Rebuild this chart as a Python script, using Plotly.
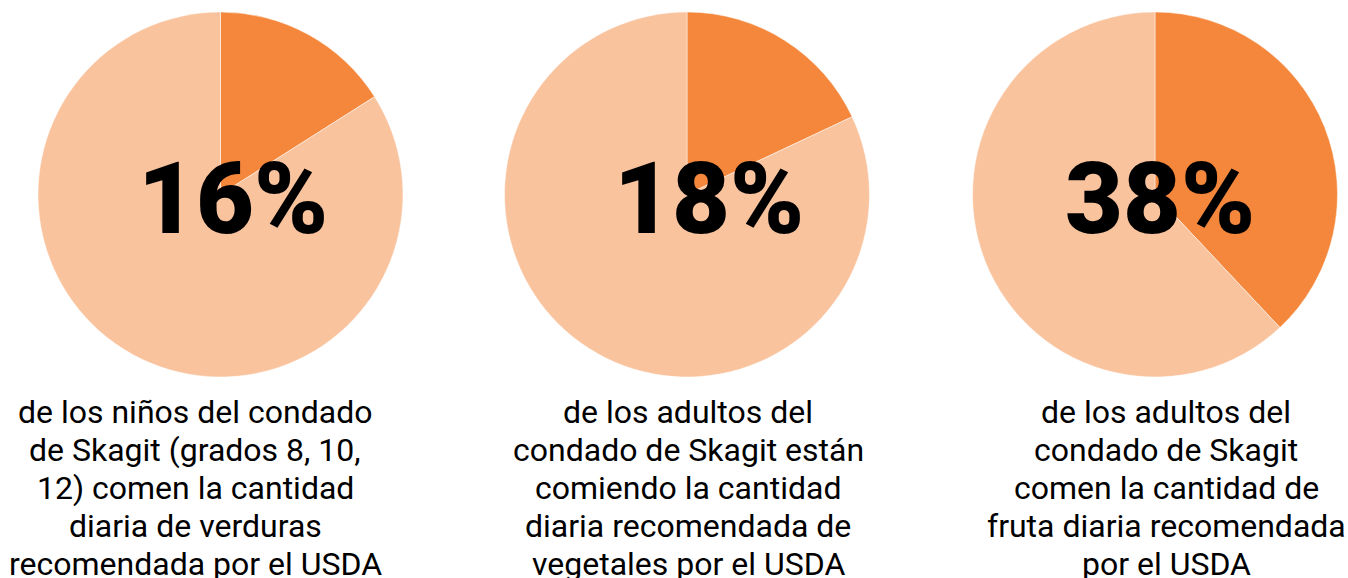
import plotly.graph_objects as go

W, H = 1348, 578
OFF = 0  # body margin removed via post_script

percents = [16, 18, 38]
big_labels = ["16%", "18%", "38%"]
captions = [
    ["de los niños del condado", "de Skagit (grados 8, 10,", "12) comen la cantidad",
     "diaria de verduras", "recomendada por el USDA"],
    ["de los adultos del", "condado de Skagit están", "comiendo la cantidad",
     "diaria recomendada de", "vegetales por el USDA"],
    ["de los adultos del", "condado de Skagit", "comen la cantidad de",
     "fruta diaria recomendada", "por el USDA"],
]
slice_names = ["Cumple", "No cumple"]

# layout (page pixels)
pie_cx = [220.5, 687, 1155]
pie_cy = 194.5
pie_r = 182.5
num_cx = [233, 709, 1160]
num_cy = 198.5
cap_cx = [195, 688, 1166]
cap_y0 = 412
cap_dy = 38

DARK = "#F4873B"
LIGHT = "#F9C39E"


def px(x):
    return (x - OFF) / W


def py(y):
    return 1 - (y - OFF) / H


fig = go.Figure()
for i, p in enumerate(percents):
    cx = pie_cx[i]
    fig.add_trace(go.Pie(
        values=[p, 100 - p],
        labels=slice_names,
        sort=False,
        direction="clockwise",
        rotation=0,
        textinfo="none",
        hoverinfo="label+percent",
        marker=dict(colors=[DARK, LIGHT], line=dict(color="rgba(255,255,255,0.6)", width=0.8)),
        domain=dict(x=[px(cx - pie_r), px(cx + pie_r)],
                    y=[py(pie_cy + pie_r), py(pie_cy - pie_r)]),
        showlegend=False,
    ))
    fig.add_annotation(
        x=px(num_cx[i]), y=py(num_cy), xref="paper", yref="paper",
        text=big_labels[i], showarrow=False, xanchor="center", yanchor="middle",
        font=dict(family="Roboto", size=100, color="black", weight=900),
    )
    for j, line in enumerate(captions[i]):
        fig.add_annotation(
            x=px(cap_cx[i]), y=py(cap_y0 + j * cap_dy), xref="paper", yref="paper",
            text=line, showarrow=False, xanchor="center", yanchor="middle",
            font=dict(family="Roboto", size=32, color="black"),
        )

fig.update_layout(
    width=W, height=H,
    margin=dict(l=0, r=0, t=0, b=0),
    paper_bgcolor="white", plot_bgcolor="white",
)
fig.write_html(
    "out.html",
    config={"displayModeBar": False},
    post_script="document.body.style.margin='0';document.body.style.overflow='hidden';",
)
